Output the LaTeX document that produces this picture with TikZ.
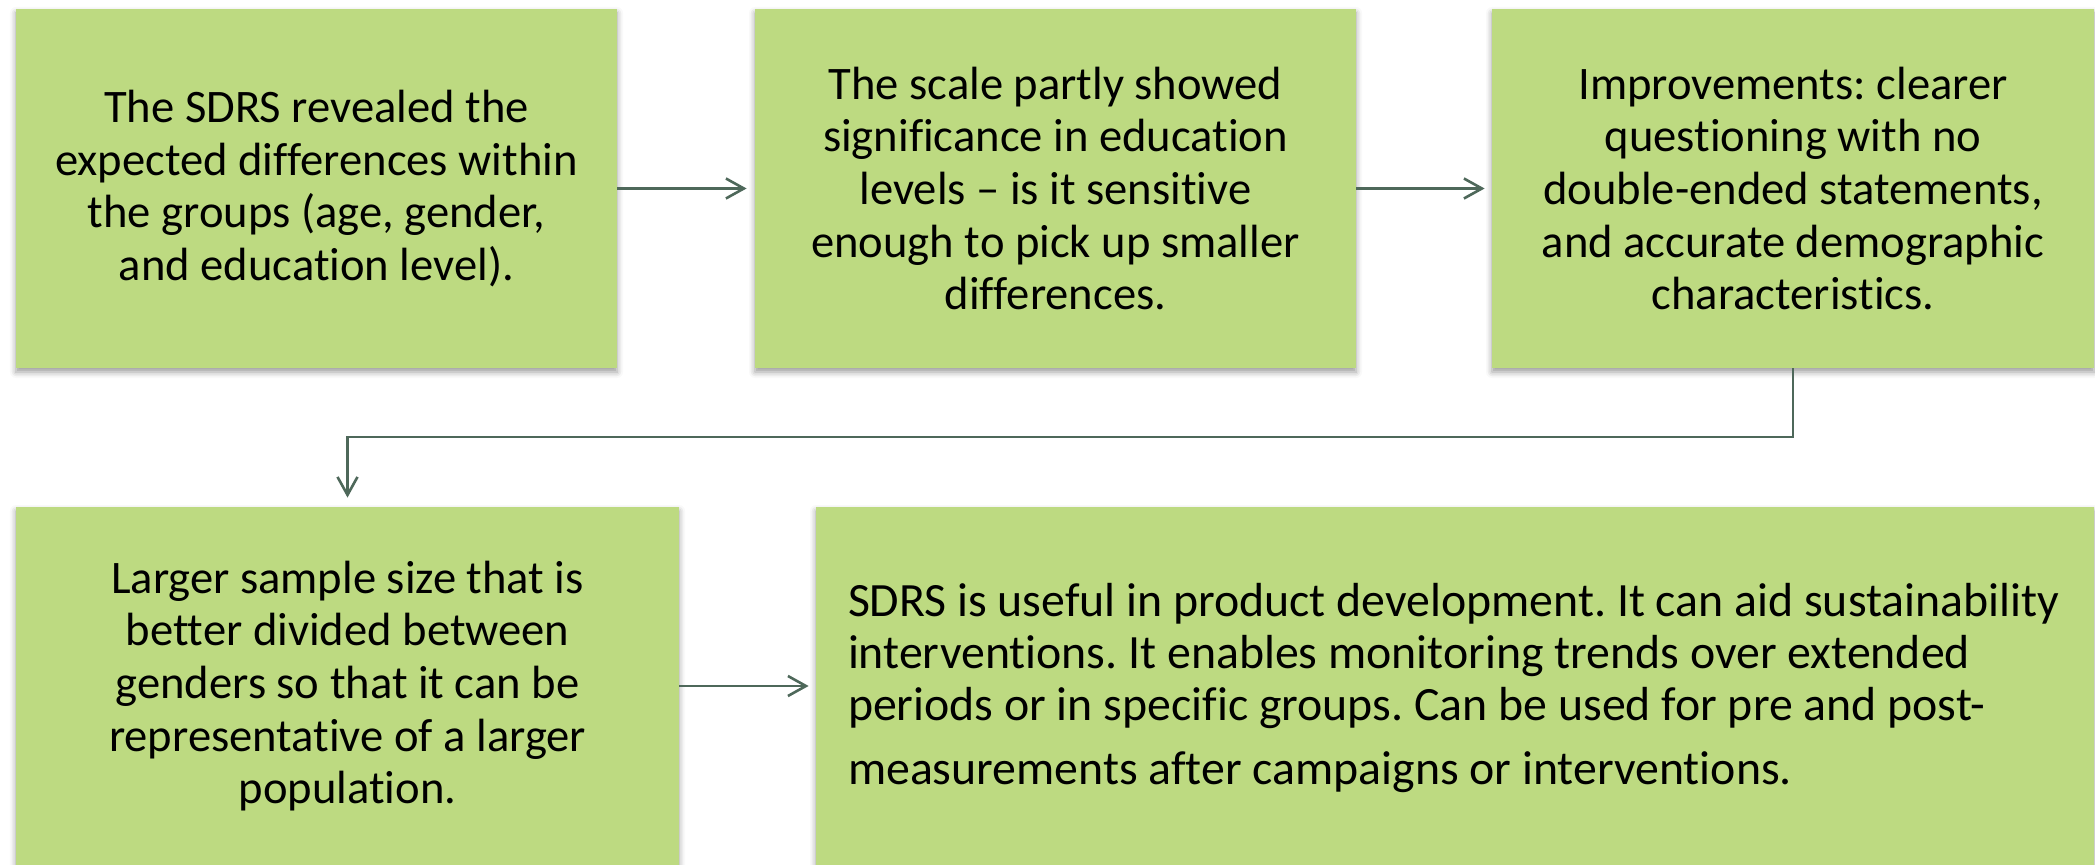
\documentclass[tikz,border=0pt]{standalone}
\usepackage{fontspec}
\setmainfont{Carlito}[Ligatures=NoCommon]
\usetikzlibrary{arrows.meta,shadows.blur}

\definecolor{boxgreen}{RGB}{189,218,129}
\definecolor{linkgray}{RGB}{78,104,90}

\tikzset{
  card/.style={rectangle, fill=boxgreen, draw=none, inner sep=0pt,
    align=center, text=black,
    blur shadow={shadow xshift=0pt, shadow yshift=-2pt,
      shadow blur radius=3pt, shadow opacity=40},
    font=\fontsize{23.3}{26.3}\selectfont},
  note/.style={inner sep=0pt, align=left, text=black,
    font=\fontsize{23.9}{25.8}\selectfont},
  link/.style={draw=linkgray, line width=1.3pt,
    -{Straight Barb[length=9pt,width=10pt]}}
}

\begin{document}
\frenchspacing
\begin{tikzpicture}
\useasboundingbox (0,0) rectangle (1047.5pt,-432.5pt);

% upper row
\node[card, minimum width=300.5pt, minimum height=179.5pt] (b1) at (158.25pt,-94.25pt)
  {The SDRS revealed the\\expected differences within\\the groups (age, gender,\\and education level).};
\node[card, minimum width=300.5pt, minimum height=179.5pt] (b2) at (527.75pt,-94.25pt)
  {The scale partly showed\\significance in education\\levels – is it sensitive\\enough to pick up smaller\\differences.};
\node[card, minimum width=301pt, minimum height=179.5pt] (b3) at (896.5pt,-94.25pt)
  {Improvements: clearer\\questioning with no\\double-ended statements,\\and accurate demographic\\characteristics.};

% lower row
\node[card, minimum width=331.5pt, minimum height=179pt] (b4) at (173.75pt,-343pt)
  {Larger sample size that is\\better divided between\\genders so that it can be\\representative of a larger\\population.};
\node[card, minimum width=639pt, minimum height=179pt] (b5) at (727.5pt,-343pt) {};
\node[note, anchor=west] (b5text) at ([xshift=16pt,yshift=-1pt]b5.west)
  {SDRS is useful in product development. It can aid sustainability\\interventions. It enables monitoring trends over extended\\periods or in specific groups. Can be used for pre and post-\\[6.2pt]measurements after campaigns or interventions.};

% connectors
\coordinate (turn) at (0,-218.5pt);
\draw[link, shorten >=4pt] (b1.east) -- (b2.west);
\draw[link, shorten >=3.5pt] (b2.east) -- (b3.west);
\draw[link, shorten >=4.5pt] (b3.south) -- (b3.south |- turn) -| (b4.north);
\draw[link, shorten >=3.5pt] (b4.east) -- (b5.west);
\end{tikzpicture}
\end{document}
